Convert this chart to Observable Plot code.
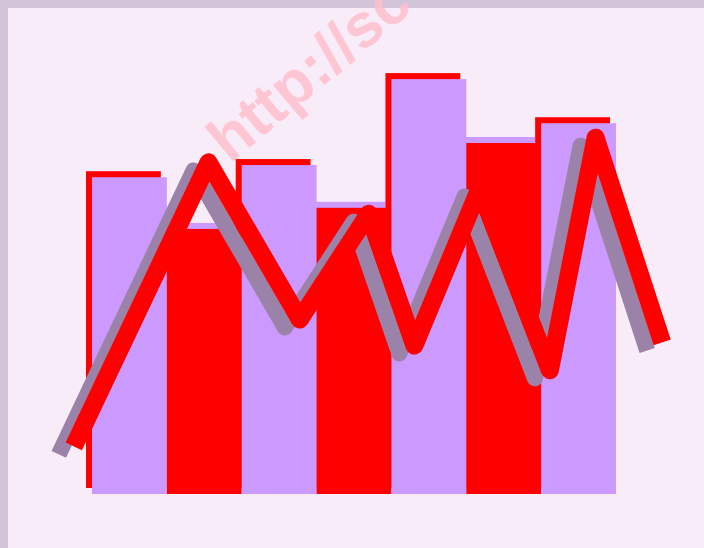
<!DOCTYPE html>
<html><head><meta charset="utf-8">
<script src="https://cdn.jsdelivr.net/npm/d3@7"></script>
<script src="https://cdn.jsdelivr.net/npm/@observablehq/plot@0.6"></script>
<style>
html,body{margin:0;padding:0;overflow:hidden;background:#d3c4d9;width:704px;height:548px;}
#chart{position:absolute;left:8px;top:8px;}
</style></head><body><div id="chart"></div>
<script>
// Data
const categories = ["1","2","3","4","5","6","7"];
const barValues = [70.4, 58.9, 73.1, 63.6, 92.2, 78.0, 82.4];
const lineX = [-0.25, 1.55, 2.77, 3.69, 4.30, 5.17, 6.11, 6.72, 7.61];
const lineValues = [10.7, 73.8, 38.9, 62.4, 33.1, 68.0, 27.6, 79.3, 33.8];
const watermark = "http://sc";

const LAV = "#cc99ff", RED = "#ff0000", GRAY = "#9b82a8";
const bars = categories.map((c, i) => ({c, i, v: barValues[i]}));
const pts = lineX.map((x, i) => ({x, y: lineValues[i]}));

const chart = Plot.plot({
  width: 696, height: 540,
  marginLeft: 84, marginRight: 88, marginTop: 36, marginBottom: 54,
  style: {background: "#f9ecf9", overflow: "visible"},
  x: {domain: [0, 7], axis: null},
  y: {domain: [0, 100], axis: null},
  marks: [
    Plot.rectY(bars, {x1: d => d.i, x2: d => d.i + 1, y: "v", fill: d => d.i % 2 === 0 ? RED : LAV, dx: -6, dy: -6}),
    Plot.rectY(bars, {x1: d => d.i, x2: d => d.i + 1, y: "v", fill: d => d.i % 2 === 0 ? LAV : RED}),
    Plot.line(pts, {x: "x", y: "y", stroke: GRAY, strokeWidth: 16, dx: -15, dy: 8, strokeLinejoin: "round", strokeLinecap: "butt", curve: "linear"}),
    Plot.line(pts, {x: "x", y: "y", stroke: RED, strokeWidth: 18, strokeLinejoin: "round", strokeLinecap: "butt", curve: "linear"})
  ]
});
const firstG = chart.querySelector("g");
const t = document.createElementNS("http://www.w3.org/2000/svg", "text");
t.textContent = watermark;
t.setAttribute("transform", "translate(222,156) rotate(-40)");
t.setAttribute("text-anchor", "start");
t.setAttribute("font-family", "Liberation Sans, Arial, sans-serif");
t.setAttribute("font-weight", "bold");
t.setAttribute("font-size", "62");
t.setAttribute("fill", "#ffc0cb");
t.setAttribute("fill-opacity", "0.85");
chart.insertBefore(t, firstG);
document.getElementById("chart").appendChild(chart);
</script></body></html>
